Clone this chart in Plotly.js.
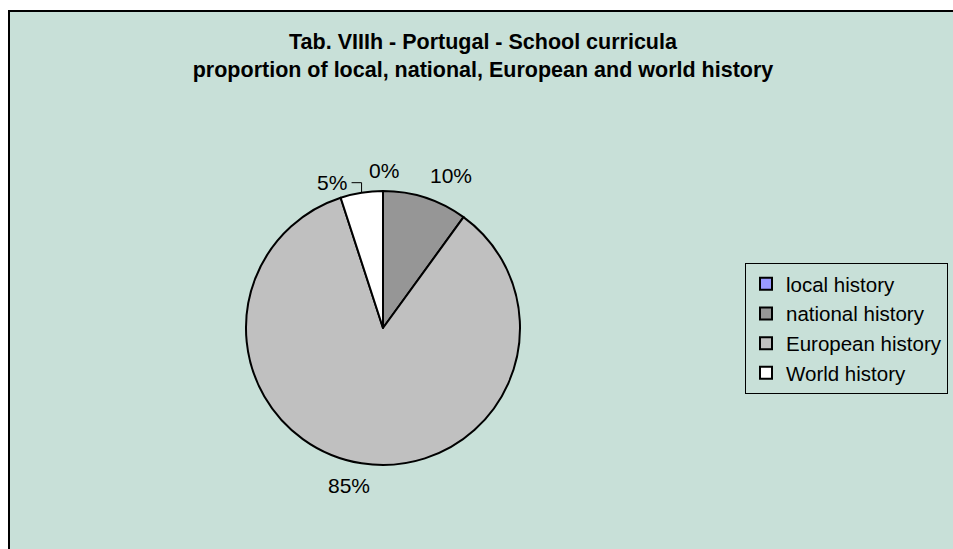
<!DOCTYPE html>
<html>
<head>
<meta charset="utf-8">
<script src="https://cdn.plot.ly/plotly-3.0.1.min.js"></script>
<style>
html, body { margin: 0; padding: 0; background: #ffffff; width: 953px; height: 549px; overflow: hidden; }
#chart { position: absolute; left: 8px; top: 10px; width: 1002px; height: 602px; border-left: 2px solid #000; border-top: 2px solid #000; box-sizing: border-box; }
</style>
</head>
<body>
<div id="chart"></div>
<script>
const categories = ["local history", "national history", "European history", "World history"];
const shares = [0, 10, 85, 5];
const sliceColors = ["#9999FF", "#969696", "#C0C0C0", "#FFFFFF"];
const titleLines = ["Tab. VIIIh - Portugal - School curricula", "proportion of local, national, European and world history"];

// label placement (pixel nudges from the slice's mid-arc point)
const labelNudge = [
  { dx: 1, dy: -21, leader: false },
  { dx: 26, dy: -22, leader: false },
  { dx: -13, dy: 22, leader: false },
  { dx: -30, dy: -10, leader: true }
];

const FONT = "Liberation Sans, Arial, sans-serif";
const W = 1000, H = 600;
const cx = 373, cy = 316, r = 137;

const total = shares.reduce((a, b) => a + b, 0);
const annotations = [];
const shapes = [];
let cum = 0;
shares.forEach((v, i) => {
  const mid = (cum + v / 2) / total * 2 * Math.PI;
  cum += v;
  const px = cx + r * Math.sin(mid);
  const py = cy - r * Math.cos(mid);
  const n = labelNudge[i];
  annotations.push({
    xref: "paper", yref: "paper",
    x: px / W, y: 1 - py / H,
    xshift: n.dx, yshift: -n.dy,
    text: Math.round(v / total * 100) + "%",
    font: { family: FONT, size: 21, color: "#000000" },
    xanchor: "center", yanchor: "middle",
    showarrow: false
  });
  if (n.leader) {
    // bent leader line from the moved label back to the slice's arc
    const x0 = px + n.dx + 20, y0 = py + n.dy;
    shapes.push({
      type: "path", xref: "paper", yref: "paper",
      path: "M" + (x0 / W) + "," + (1 - y0 / H) + " L" + (px / W) + "," + (1 - y0 / H) + " L" + (px / W) + "," + (1 - py / H),
      line: { color: "#000000", width: 1 }
    });
  }
});

const trace = {
  type: "pie",
  labels: categories,
  values: shares,
  sort: false,
  direction: "clockwise",
  rotation: 0,
  marker: { colors: sliceColors, line: { color: "#000000", width: 2 } },
  textinfo: "none",
  hoverinfo: "label+percent",
  domain: { x: [(cx - r) / W, (cx + r) / W], y: [1 - (cy + r) / H, 1 - (cy - r) / H] }
};

const layout = {
  width: W, height: H,
  margin: { l: 0, r: 0, t: 0, b: 0 },
  paper_bgcolor: "#C8E0D8",
  plot_bgcolor: "#C8E0D8",
  font: { family: FONT, color: "#000000" },
  title: {
    text: "<b>" + titleLines.join("<br>") + "</b>",
    font: { family: FONT, size: 21.5, color: "#000000" },
    x: 473 / W, xanchor: "center",
    y: 1 - 37 / H, yanchor: "top"
  },
  annotations: annotations,
  shapes: shapes,
  showlegend: true,
  legend: {
    x: 735 / W, xanchor: "left",
    y: 1 - 251 / H, yanchor: "top",
    bgcolor: "#C8E0D8",
    bordercolor: "#000000", borderwidth: 1,
    font: { family: FONT, size: 20.5, color: "#000000" },
    traceorder: "normal"
  }
};

Plotly.newPlot("chart", [trace], layout, { displayModeBar: false, staticPlot: true });
</script>
</body>
</html>
